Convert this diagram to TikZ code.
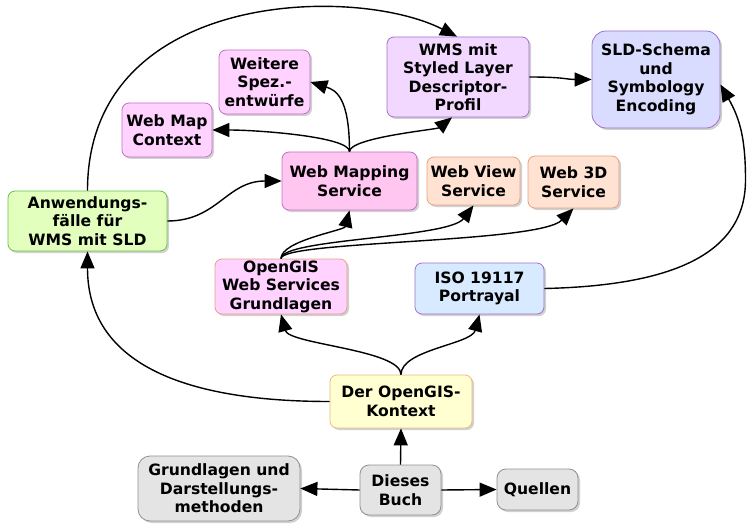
\documentclass[tikz,border=0pt]{standalone}
\usepackage{fontspec}
\setmainfont{DejaVu Sans}
\usetikzlibrary{shadows,arrows.meta}
\definecolor{grfill}{HTML}{E2FFBE}
\definecolor{grline}{HTML}{6CC04A}
\definecolor{pkfill}{HTML}{FFD2FF}
\definecolor{pkline}{HTML}{C070C0}
\definecolor{pk2fill}{HTML}{FFC6F2}
\definecolor{lvfill}{HTML}{F2D8FF}
\definecolor{lvline}{HTML}{A070D0}
\definecolor{blfill}{HTML}{DADCFF}
\definecolor{orfill}{HTML}{FFE2D2}
\definecolor{orline}{HTML}{E8A080}
\definecolor{lbfill}{HTML}{D8EAFF}
\definecolor{yefill}{HTML}{FFFFD2}
\definecolor{yeline}{HTML}{EEB878}
\definecolor{gyfill}{HTML}{E4E4E4}
\definecolor{gyline}{HTML}{909090}
\tikzset{
  box/.style={draw, line width=0.8pt, rounded corners=7pt, align=center,
    inner sep=0pt, font=\fontsize{15.6}{18.5}\selectfont\bfseries,
    drop shadow={shadow xshift=2pt, shadow yshift=-2pt, fill=black!40, opacity=.45}},
  edge/.style={line width=1.4pt, -{Triangle[length=17pt,width=14pt]}},
  sz/.style 2 args={minimum width=#1pt, minimum height=#2pt}
}
\begin{document}
\begin{tikzpicture}[x=1pt,y=-1pt]
\useasboundingbox (0,0) rectangle (747,524);
\node[box, fill=grfill, draw=grline, sz={159}{60}] (anw) at (87.5,221) {Anwendungs-\\fälle für\\WMS mit SLD};
\node[box, fill=pkfill, draw=pkline, sz={90}{54}] (wmc) at (167,130) {Web Map\\Context};
\node[box, fill=pkfill, draw=pkline, sz={91}{64}] (weitere) at (264.5,82) {Weitere\\Spez.-\\entwürfe};
\node[box, fill=pk2fill, draw=pkline, sz={135}{58}] (wmsvc) at (349.5,181) {Web Mapping\\Service};
\node[box, fill=lvfill, draw=lvline, sz={142}{80}] (wmssld) at (458,77) {WMS mit\\Styled Layer\\Descriptor-\\Profil};
\node[box, fill=blfill, draw=lvline, rounded corners=14pt, sz={128}{97}] (sld) at (656,79.5) {SLD-Schema\\und\\Symbology\\Encoding};
\node[box, fill=orfill, draw=orline, sz={93}{48}] (webview) at (473.5,181) {Web View\\Service};
\node[box, fill=orfill, draw=orline, sz={91}{52}] (web3d) at (573.5,182) {Web 3D\\Service};
\node[box, fill=pkfill, draw=orline, sz={132}{55}] (ows) at (281,286.5) {OpenGIS\\Web Services\\Grundlagen};
\node[box, fill=lbfill, draw=lvline, sz={129}{51}] (iso) at (479.5,288.5) {ISO 19117\\Portrayal};
\node[box, fill=yefill, draw=yeline, sz={142}{53}] (kontext) at (401,401.5) {Der OpenGIS-\\Kontext};
\node[box, fill=gyfill, draw=gyline, rounded corners=12pt, sz={162}{65}] (grund) at (219,488.5) {Grundlagen und\\Darstellungs-\\methoden};
\node[box, fill=gyfill, draw=gyline, rounded corners=9pt, sz={81}{50}] (buch) at (400.5,490) {Dieses\\Buch};
\node[box, fill=gyfill, draw=gyline, rounded corners=9pt, sz={81}{41}] (quellen) at (537.5,489.5) {Quellen};
\coordinate (bend) at (745.5,180);

\draw[edge] (buch.west) -- (grund.east);
\draw[edge] (buch.east) -- (quellen.west);
\draw[edge] (buch.north) -- (kontext.south);
\draw[edge] (kontext.north) .. controls +(0,-25) and +(8,30) .. (ows.south);
\draw[edge] (kontext.north) .. controls +(0,-25) and +(-8,30) .. (iso.south);
\draw[edge] (kontext.west) .. controls +(-150,0) and +(0,110) .. (anw.south);
\draw[edge] (ows.north) .. controls +(0,-18) and +(-5,20) .. (wmsvc.south);
\draw[edge] (ows.north) .. controls +(0,-20) and +(-25,33) .. (webview.south);
\draw[edge] (ows.north) .. controls +(0,-18) and +(-35,35) .. (web3d.south);
\draw[edge] (anw.east) .. controls +(50,0) and +(-55,0) .. (wmsvc.west);
\draw[edge] (anw.north) .. controls +(0,-201) and +(-102,-52) .. ([xshift=-1pt]wmssld.north);
\draw[edge] (wmsvc.north) .. controls +(0,-15) and +(45,0) .. (wmc.east);
\draw[edge] (wmsvc.north) .. controls +(0,-55) and +(25,8) .. (weitere.east);
\draw[edge] (wmsvc.north) .. controls +(0,-14) and +(-15,12) .. ([xshift=-6pt]wmssld.south);
\draw[edge] (wmssld.east) .. controls +(35,0) and +(-25,0) .. (sld.west);
\draw[edge] (iso.east) .. controls +(136,-3) and +(0,70) .. (bend) .. controls +(0,-40) and +(20,35) .. ([yshift=-5pt]sld.east);
\end{tikzpicture}
\end{document}
